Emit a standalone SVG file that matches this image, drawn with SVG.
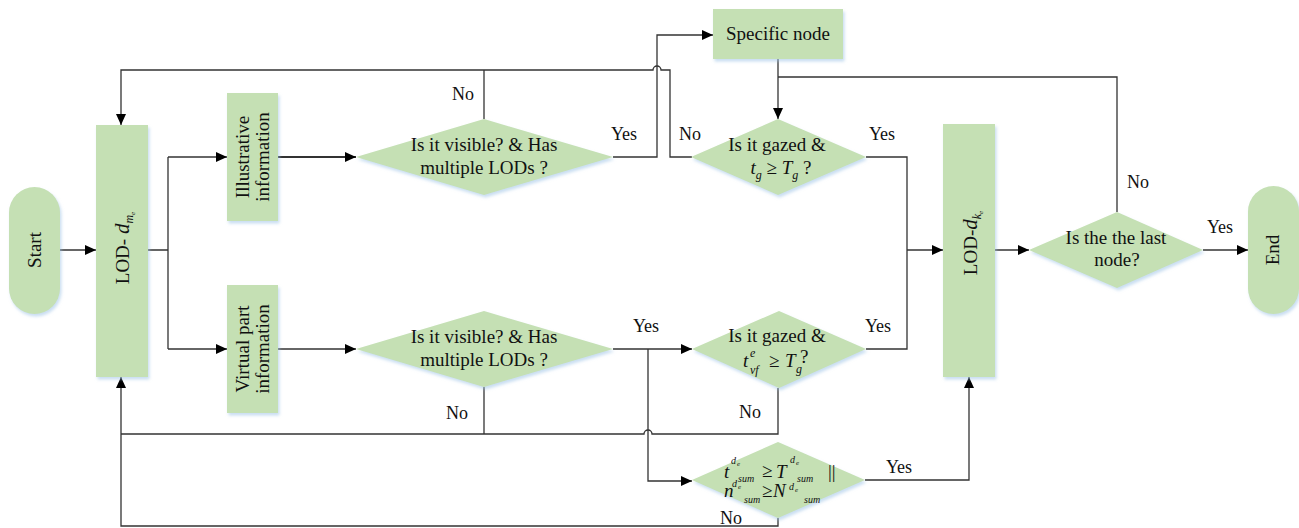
<svg xmlns="http://www.w3.org/2000/svg" width="1299" height="528" viewBox="0 0 1299 528" font-family="'Liberation Serif', 'DejaVu Serif', serif">
  <defs>
    <marker id="arrow" markerUnits="userSpaceOnUse" markerWidth="12" markerHeight="10" refX="11" refY="5" orient="auto">
      <path d="M0,0 L11,5 L0,10 z" fill="#000"/>
    </marker>
    <filter id="shadow" x="-20%" y="-20%" width="140%" height="140%">
      <feDropShadow dx="1.5" dy="2.5" stdDeviation="1.5" flood-color="#9dc3e6" flood-opacity="0.55"/>
    </filter>
    <style>
      .shape { fill: #c5e0b4; filter: url(#shadow); }
      text { font-family: 'Liberation Serif', 'DejaVu Serif', serif; }
      .t { font-size: 19px; fill: #111; }
      .c { text-anchor: middle; }
      .lbl { font-size: 18px; fill: #111; text-anchor: middle; }
      .i { font-style: italic; }
      .sm { font-size: 12px; }
      .ss { font-size: 10px; }
      .xs { font-size: 7px; }
      .wire { fill: none; stroke: #333; stroke-width: 1.3; }
      .arr { marker-end: url(#arrow); }
    </style>
  </defs>

  <!-- connectors -->
  <g id="connectors">
    <path class="wire arr" d="M60,250 H96"/>
    <path class="wire" d="M148,250 H168 M168,157 V349"/>
    <path class="wire arr" d="M168,157 H227"/>
    <path class="wire arr" d="M168,349 H227"/>
    <path class="wire arr" d="M278,157 H356" style="stroke-width:2"/>
    <path class="wire arr" d="M278,349 H356"/>
    <!-- visibility check (illustrative) -->
    <path class="wire" d="M484,119 V70"/>
    <path class="wire arr" d="M613,157 H657 V35 H713"/>
    <!-- gaze check failed: back to LOD-d_m -->
    <path class="wire arr" d="M692,157 H670 V70 H661 A4,4 0 0 0 653,70 H121 V125"/>
    <path class="wire arr" d="M778,59 V119"/>
    <path class="wire" d="M1117,212 V77 H778"/>
    <path class="wire" d="M866,157 H907 V349 H866"/>
    <path class="wire arr" d="M907,250 H943"/>
    <path class="wire arr" d="M995,250 H1029"/>
    <path class="wire arr" d="M1203,250 H1248"/>
    <!-- virtual part branch -->
    <path class="wire arr" d="M613,349 H692"/>
    <path class="wire arr" d="M648,349 V481 H692"/>
    <path class="wire" d="M484,387 V434"/>
    <path class="wire" d="M778,388 V434 H652 A4,4 0 0 0 644,434 H121"/>
    <path class="wire arr" d="M865,480 H969 V377"/>
    <path class="wire arr" d="M778,518 V526 H121 V377"/>
  </g>

  <!-- edge labels -->
  <g id="labels">
    <text class="lbl" x="463" y="100">No</text>
    <text class="lbl" x="624" y="140">Yes</text>
    <text class="lbl" x="690" y="140">No</text>
    <text class="lbl" x="882" y="140">Yes</text>
    <text class="lbl" x="1138" y="188">No</text>
    <text class="lbl" x="1220" y="233">Yes</text>
    <text class="lbl" x="646" y="332">Yes</text>
    <text class="lbl" x="878" y="332">Yes</text>
    <text class="lbl" x="457" y="419">No</text>
    <text class="lbl" x="750" y="418">No</text>
    <text class="lbl" x="899" y="473">Yes</text>
    <text class="lbl" x="731" y="524">No</text>
  </g>

  <g id="start">
    <rect class="shape" x="9" y="187" width="51" height="127" rx="25.5"/>
    <g transform="translate(0,250) rotate(-90)">
      <text class="t c" x="0" y="41">Start</text>
    </g>
  </g>

  <g id="lod-dm">
    <rect class="shape" x="96" y="125" width="52" height="252"/>
    <g transform="translate(0,248) rotate(-90)">
      <text class="t c" x="0" y="129">LOD- <tspan class="i" font-size="21">d</tspan><tspan class="i sm" dy="4">m</tspan><tspan class="i xs" dy="2">e</tspan></text>
    </g>
  </g>

  <g id="illustrative">
    <rect class="shape" x="227" y="93" width="51" height="128"/>
    <g transform="translate(0,157) rotate(-90)">
      <text class="t c" x="0" y="249">Illustrative</text>
      <text class="t c" x="0" y="269">information</text>
    </g>
  </g>

  <g id="virtual">
    <rect class="shape" x="227" y="285" width="51" height="128"/>
    <g transform="translate(0,349) rotate(-90)">
      <text class="t c" x="0" y="249">Virtual part</text>
      <text class="t c" x="0" y="269">information</text>
    </g>
  </g>

  <g id="visible-illustrative">
    <polygon class="shape" points="356,157 484,119 613,157 484,195"/>
    <text class="t c" x="484" y="151">Is it visible? &amp; Has</text>
    <text class="t c" x="484" y="174">multiple LODs ?</text>
  </g>

  <g id="visible-virtual">
    <polygon class="shape" points="356,349 484,311 613,349 484,387"/>
    <text class="t c" x="484" y="343">Is it visible? &amp; Has</text>
    <text class="t c" x="484" y="366">multiple LODs ?</text>
  </g>

  <g id="specific-node">
    <rect class="shape" x="713" y="9" width="130" height="50"/>
    <text class="t c" x="778" y="40">Specific node</text>
  </g>

  <g id="gazed-illustrative">
    <polygon class="shape" points="691,157 778,119 866,157 778,195"/>
    <text class="t c" x="777" y="151">Is it gazed &amp;</text>
    <text class="t c" x="781" y="174"><tspan class="i">t</tspan><tspan class="i sm" dy="5">g</tspan><tspan dy="-5"> ≥ </tspan><tspan class="i">T</tspan><tspan class="i sm" dy="5">g</tspan><tspan dy="-5"> ?</tspan></text>
  </g>

  <g id="gazed-virtual">
    <polygon class="shape" points="692,349 779,311 866,349 779,388"/>
    <text class="t c" x="777" y="342">Is it gazed &amp;</text>
    <text class="t i" x="743" y="367">t</text>
    <text class="t i sm" x="750" y="357">e</text>
    <text class="t i sm" x="750" y="374">vf</text>
    <text class="t" x="769" y="367">≥</text>
    <text class="t i" x="785" y="367">T</text>
    <text class="t i sm" x="796" y="373">g</text>
    <text class="t" x="800" y="363">?</text>
  </g>

  <g id="sum-check">
    <polygon class="shape" points="692,480 778,442 865,480 778,518"/>
    <text class="t i" x="724" y="478">t</text>
    <text class="t i ss" x="731" y="464">d</text>
    <text class="t i xs" x="737" y="466">e</text>
    <text class="t i ss" x="738" y="482">sum</text>
    <text class="t" x="762" y="477">≥</text>
    <text class="t i" x="776" y="478">T</text>
    <text class="t i ss" x="790" y="463">d</text>
    <text class="t i xs" x="796" y="465">e</text>
    <text class="t i ss" x="797" y="482">sum</text>
    <text class="t" x="828" y="478">||</text>
    <text class="t i" x="724" y="497">n</text>
    <text class="t i ss" x="732" y="487">d</text>
    <text class="t i xs" x="738" y="489">e</text>
    <text class="t i ss" x="744" y="503">sum</text>
    <text class="t" x="762" y="497">≥</text>
    <text class="t i" x="773" y="497">N</text>
    <text class="t i ss" x="789" y="490">d</text>
    <text class="t i xs" x="795" y="492">e</text>
    <text class="t i ss" x="804" y="503">sum</text>
  </g>

  <g id="lod-dk">
    <rect class="shape" x="943" y="124" width="52" height="253"/>
    <g transform="translate(0,243) rotate(-90)">
      <text class="t c" x="0" y="977">LOD-<tspan class="i" font-size="21">d</tspan><tspan class="i sm" dy="4">k</tspan><tspan class="i xs" dy="2">e</tspan></text>
    </g>
  </g>

  <g id="last-node">
    <polygon class="shape" points="1029,250 1117,212 1203,250 1117,288"/>
    <text class="t c" x="1116" y="244">Is the the last</text>
    <text class="t c" x="1117" y="266">node?</text>
  </g>

  <g id="end">
    <rect class="shape" x="1248" y="186" width="51" height="128" rx="25.5"/>
    <g transform="translate(0,250) rotate(-90)">
      <text class="t c" x="0" y="1279">End</text>
    </g>
  </g>
</svg>
